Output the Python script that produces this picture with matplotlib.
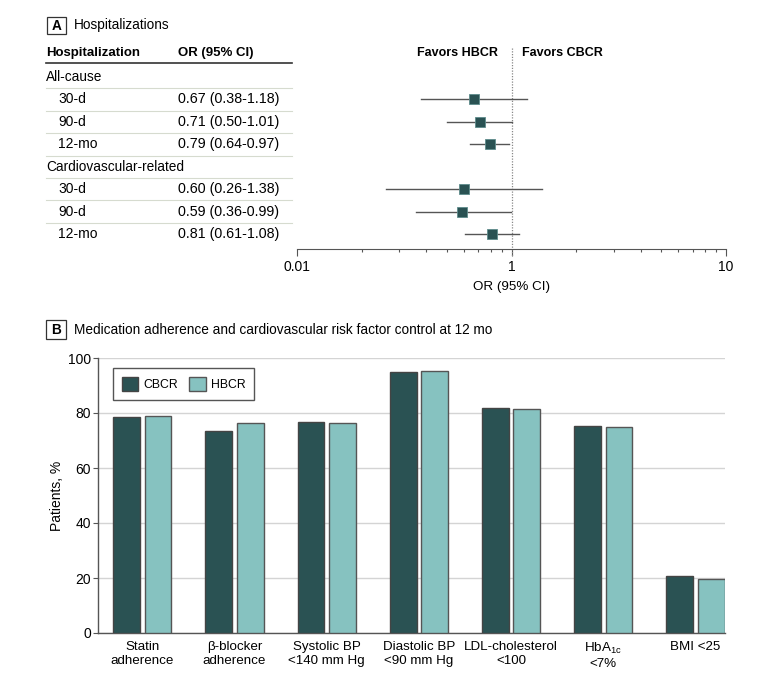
import numpy as np
import matplotlib
matplotlib.use("Agg")
import matplotlib.pyplot as plt
import matplotlib.patches as mpatches
from matplotlib.transforms import blended_transform_factory

plt.rcParams['font.family'] = ['Liberation Sans', 'DejaVu Sans']
plt.rcParams['mathtext.fontset'] = 'custom'
plt.rcParams['mathtext.rm'] = 'Liberation Sans'
plt.rcParams['font.size'] = 9.8

# ---- panel A data
groups = ["All-cause", "Cardiovascular-related"]
periods = ["30-d", "90-d", "12-mo"]
or_vals = [0.67, 0.71, 0.79, 0.60, 0.59, 0.81]
ci_lo = [0.38, 0.50, 0.64, 0.26, 0.36, 0.61]
ci_hi = [1.18, 1.01, 0.97, 1.38, 0.99, 1.08]
or_ticks = [0.1, 1, 10]
or_tick_labels = ["0.01", "1", "10"]

# ---- panel B data
categories = ["Statin\nadherence", "β-blocker\nadherence", "Systolic BP\n<140 mm Hg",
              "Diastolic BP\n<90 mm Hg", "LDL-cholesterol\n<100", "HbA$_\\mathrm{1c}$\n<7%",
              "BMI <25"]
cbcr = [78.4, 73.3, 76.6, 94.8, 81.7, 75.2, 20.6]
hbcr = [78.9, 76.2, 76.2, 95.3, 81.3, 74.9, 19.5]
y_ticks = [0, 20, 40, 60, 80, 100]

dark = '#2a5253'
light = '#86c2c0'
W, H = 780, 681


def fx(px):
    return px / W


def fy(py):
    return 1 - py / H


fig = plt.figure(figsize=(W / 100, H / 100), dpi=100)


def panel_tag(letter, x0, y0, x1, y1, title):
    fig.patches.append(mpatches.Rectangle((fx(x0), fy(y1)), fx(x1) - fx(x0), fy(y0) - fy(y1),
                                          transform=fig.transFigure, fill=False,
                                          ec='#333333', lw=0.9))
    fig.text(fx((x0 + x1) / 2), fy((y0 + y1) / 2), letter, ha='center', va='center',
             fontweight='bold', fontsize=9.8)
    fig.text(fx(x1 + 8), fy((y0 + y1) / 2), title, ha='left', va='center', fontsize=9.8)


# ================= panel A: forest plot
row0, rowh = 77, 22.43   # pixel y of first row and row pitch
ax_top, ax_bot = 40, 249


def r(py):
    return (py - row0) / rowh


axf = fig.add_axes([fx(297), fy(ax_bot), fx(726) - fx(297), fy(ax_top) - fy(ax_bot)])
axf.set_xscale('log')
axf.set_xlim(0.1, 10)
axf.set_ylim(r(ax_bot), r(ax_top))
for s in ['left', 'right', 'top']:
    axf.spines[s].set_visible(False)
axf.spines['bottom'].set_color('#555555')
axf.set_yticks([])
axf.set_xticks(or_ticks)
axf.set_xticklabels(or_tick_labels)
axf.xaxis.set_minor_locator(matplotlib.ticker.LogLocator(base=10, subs=np.arange(2, 10)))
axf.xaxis.set_minor_formatter(matplotlib.ticker.NullFormatter())
axf.tick_params(axis='x', which='major', length=5, width=0.8, color='#555555', pad=3, labelsize=10)
axf.tick_params(axis='x', which='minor', length=2.5, width=0.8, color='#555555')
axf.set_xlabel("OR (95% CI)", fontsize=9.6, labelpad=5)

axf.plot([1, 1], [r(48), r(257)], ls=(0, (1, 1.2)), color='#888888', lw=0.9, clip_on=False)

rows = [1, 2, 3, 5, 6, 7]
for i, rr in enumerate(rows):
    axf.plot([ci_lo[i], ci_hi[i]], [rr, rr], color='#555555', lw=1.0, zorder=2)
    axf.plot(or_vals[i], rr, marker='s', ms=6.8, color=dark, mec='#5e8c8c', mew=0.6, zorder=3)

hdr = r(53)
axf.annotate("Favors HBCR", (1, hdr), xytext=(-10, 0), textcoords='offset points',
             ha='right', va='center', fontweight='bold', fontsize=9)
axf.annotate("Favors CBCR", (1, hdr), xytext=(7.5, 0), textcoords='offset points',
             ha='left', va='center', fontweight='bold', fontsize=9)

# table on the left, x in figure coords, y in row units
tr = blended_transform_factory(fig.transFigure, axf.transData)
fig.text(fx(46), hdr, "Hospitalization", transform=tr, ha='left', va='center',
         fontweight='bold', fontsize=9.5)
fig.text(fx(178), hdr, "OR (95% CI)", transform=tr, ha='left', va='center',
         fontweight='bold', fontsize=9.5)
axf.plot([fx(46), fx(292)], [r(63), r(63)], transform=tr, color='#333333', lw=1.2, clip_on=False)
for k in range(7):
    axf.plot([fx(46), fx(292)], [k + 0.5, k + 0.5], transform=tr, color='#d6dbcf',
             lw=0.8, clip_on=False)

for g, grp in enumerate(groups):
    gr = g * 4
    fig.text(fx(46), gr, grp, transform=tr, ha='left', va='center', fontsize=9.8)
    for p, per in enumerate(periods):
        i = g * 3 + p
        rr = gr + p + 1
        fig.text(fx(58), rr, per, transform=tr, ha='left', va='center', fontsize=10)
        fig.text(fx(178), rr, "%.2f (%.2f-%.2f)" % (or_vals[i], ci_lo[i], ci_hi[i]),
                 transform=tr, ha='left', va='center', fontsize=10.3)

panel_tag("A", 47, 17, 66, 34, "Hospitalizations")

# ================= panel B: bars
panel_tag("B", 46, 320, 66, 339,
          "Medication adherence and cardiovascular risk factor control at 12 mo")

axb = fig.add_axes([fx(98), fy(633), fx(725) - fx(98), fy(358) - fy(633)])
x = np.arange(len(categories))
w = 0.29
axb.bar(x - 0.17, cbcr, w, color=dark, edgecolor='#444444', lw=1, label='CBCR', zorder=3)
axb.bar(x + 0.17, hbcr, w, color=light, edgecolor='#555555', lw=1, label='HBCR', zorder=3)
axb.set_xlim(-0.48, 6.32)
axb.set_ylim(0, 100)
axb.set_yticks(y_ticks)
axb.set_xticks(x)
axb.set_xticklabels(categories, fontsize=9.6, linespacing=1.15)
axb.tick_params(axis='x', length=0, pad=6)
axb.tick_params(axis='y', length=3.5, width=0.8, color='#555555', pad=1.5, labelsize=10)
axb.yaxis.grid(True, color='#d4d4d4', lw=1)
axb.set_axisbelow(True)
for s in ['right', 'top']:
    axb.spines[s].set_visible(False)
for s in ['left', 'bottom']:
    axb.spines[s].set_color('#555555')
    axb.spines[s].set_linewidth(1)
axb.set_ylabel("Patients, %", fontsize=10, labelpad=3)

leg = axb.legend(loc='upper left', bbox_to_anchor=((113 - 98) / 627, (633 - 368) / 275),
                 borderaxespad=0, ncol=2, fontsize=8.8, fancybox=False, framealpha=1,
                 edgecolor='#555555', handlelength=1.35, handleheight=1.45, handletextpad=0.45,
                 columnspacing=0.9, borderpad=0.7)
leg.get_frame().set_linewidth(1)

fig.savefig("out.png", dpi=100)
